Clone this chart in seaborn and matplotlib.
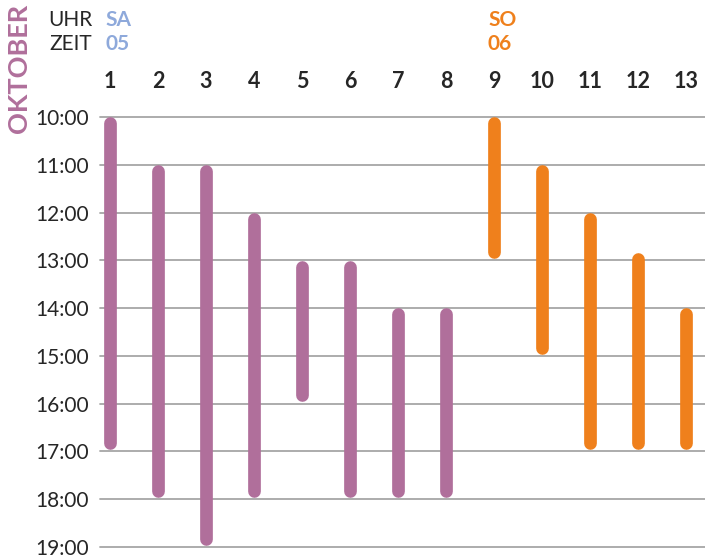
import matplotlib
matplotlib.use("Agg")
import matplotlib.pyplot as plt
import seaborn as sns
import pandas as pd

# schedule: slot number, day, start / end time
slots = list(range(1, 14))
days = ["SA"] * 8 + ["SO"] * 5
starts = ["10:00", "11:00", "11:00", "12:00", "13:00", "13:00", "14:00", "14:00",
          "10:00", "11:00", "12:00", "12:50", "14:00"]
ends = ["17:00", "18:00", "19:00", "18:00", "16:00", "18:00", "18:00", "18:00",
        "13:00", "15:00", "17:00", "17:00", "17:00"]
hour_labels = [f"{h}:00" for h in range(10, 20)]

purple, orange, blue, grid = "#b06f9b", "#ef801c", "#8ea9db", "#a6a6a6"


def to_hours(t):
    h, m = t.split(":")
    return int(h) + int(m) / 60


W, H = 705, 556
px_per_hour = (547 - 117) / 9
lw_px = 12.7
cap = (lw_px / 2) / px_per_hour      # round cap radius in hours
gap = 2 / px_per_hour                # bars stop just short of the end line

rows = []
for s, d, a, b in zip(slots, days, starts, ends):
    rows.append({"slot": s, "day": d, "hour": to_hours(a) + cap})
    rows.append({"slot": s, "day": d, "hour": to_hours(b) - cap - gap})
df = pd.DataFrame(rows)

sns.set_theme(style="white")
plt.rcParams["font.family"] = ["Lato", "DejaVu Sans"]

fig = plt.figure(figsize=(W / 100, H / 100), dpi=100)
ax = fig.add_axes([100 / W, 0, 605 / W, (H - 117) / H])

for h in range(10, 20):
    ax.axhline(h, color=grid, lw=1.3, zorder=1)

sns.lineplot(data=df, x="slot", y="hour", units="slot", hue="day", estimator=None,
             sort=False, palette={"SA": purple, "SO": orange}, legend=False,
             linewidth=lw_px * 72 / 100, solid_capstyle="round", ax=ax, zorder=3)

ax.set_xlim(1 - 10 / 48, 13 + 19 / 48)
ax.set_ylim(10 + (H - 117) / px_per_hour, 10)
for ln in ax.lines:
    ln.set_clip_on(False)

ax.set_yticks(range(10, 20))
ax.set_yticklabels(hour_labels, fontsize=15, color="#262626")
ax.tick_params(axis="y", length=0, pad=8)
ax.xaxis.tick_top()
ax.set_xticks(slots)
ax.set_xticklabels([str(s) for s in slots], fontsize=15.5, fontweight="bold", color="#262626")
ax.tick_params(axis="x", length=0, pad=18)
ax.set_xlabel("")
ax.set_ylabel("")
sns.despine(ax=ax, left=True, bottom=True, top=True, right=True)

# header texts
fig.text(92 / W, 1 - 20 / H, "UHR", ha="right", va="center", fontsize=15, color="#262626")
fig.text(92 / W, 1 - 44 / H, "ZEIT", ha="right", va="center", fontsize=15, color="#262626")
fig.text(105 / W, 1 - 20 / H, "SA", ha="left", va="center", fontsize=15, fontweight="bold", color=blue)
fig.text(105 / W, 1 - 44 / H, "05", ha="left", va="center", fontsize=15, fontweight="bold", color=blue)
fig.text(488 / W, 1 - 20 / H, "SO", ha="left", va="center", fontsize=15, fontweight="bold", color=orange)
fig.text(488 / W, 1 - 44 / H, "06", ha="left", va="center", fontsize=15, fontweight="bold", color=orange)
fig.text(19 / W, 1 - 68 / H, "OKTOBER", rotation=90, ha="center", va="center",
         fontsize=19.5, fontweight="bold", color=purple)

fig.savefig("out.png", dpi=100)
